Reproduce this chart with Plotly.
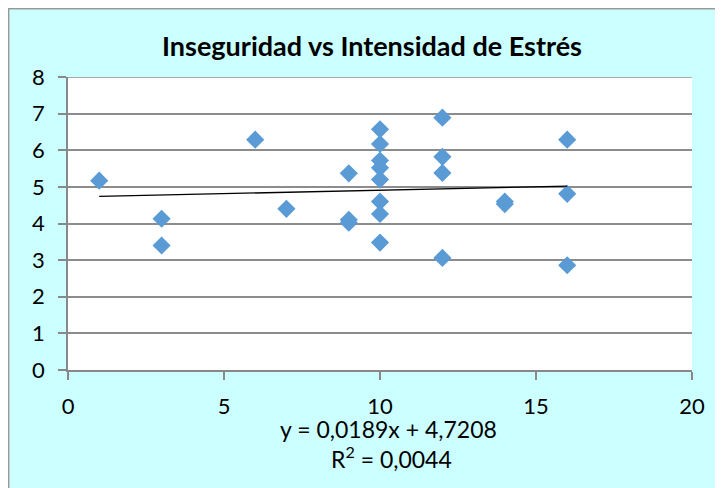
import plotly.graph_objects as go

# Data
x_vals = [1, 3, 3, 6, 7, 9, 9, 9, 10, 10, 10, 10, 10, 10, 10, 10, 12, 12, 12, 12, 14, 14, 16, 16, 16]
y_vals = [5.17, 4.13, 3.40, 6.29, 4.40, 5.37, 4.10, 4.02, 6.57, 6.17, 5.72, 5.52, 5.20, 4.60, 4.26, 3.48,
          6.89, 5.82, 5.38, 3.06, 4.60, 4.53, 6.29, 4.81, 2.86]
slope = 0.0189
intercept = 4.7208
r2 = 0.0044
x_ticks = [0, 5, 10, 15, 20]
y_ticks = [0, 1, 2, 3, 4, 5, 6, 7, 8]

FONT = "Lato, Open Sans, sans-serif"

tx = [min(x_vals), max(x_vals)]
ty = [slope * v + intercept for v in tx]

fig = go.Figure()
fig.add_trace(go.Scatter(x=x_vals, y=y_vals, mode="markers",
                         marker=dict(symbol="diamond", size=14, color="#5B9BD5",
                                     line=dict(width=0)),
                         showlegend=False, hoverinfo="x+y"))
fig.add_trace(go.Scatter(x=tx, y=ty, mode="lines", line=dict(color="black", width=1.3),
                         showlegend=False, hoverinfo="skip"))

# page body has an 8px margin; figure coords = page coords - 8
OFF = 8
W, H = 723 - OFF, 488 - OFF
L, T = 68 - OFF, 77 - OFF
R = W - (692 - OFF)
B = H - (370 - OFF)
pw, ph = W - L - R, H - T - B

def px(xp):
    return (xp - OFF - L) / pw

def py(yp):
    return (H - B - (yp - OFF)) / ph

fig.update_layout(
    width=W, height=H,
    margin=dict(l=L, r=R, t=T, b=B),
    paper_bgcolor="#CCFFFF",
    plot_bgcolor="white",
    font=dict(family=FONT, size=22, color="black"),
    title=dict(text="<b>Inseguridad vs Intensidad de Estrés</b>", xref="container",
               x=(372 - OFF) / W, xanchor="center",
               y=1 - (47 - OFF) / H, yanchor="middle", font=dict(size=27, family=FONT)),
    xaxis=dict(range=[0, 20], tickvals=x_ticks, showgrid=False, zeroline=False,
               showline=True, linecolor="#888888", linewidth=1.5,
               ticks="outside", ticklen=8, tickcolor="#888888", tickwidth=1.5,
               tickfont=dict(size=22), ticklabelstandoff=8, fixedrange=True, automargin=False),
    yaxis=dict(range=[0, 8], tickvals=y_ticks, showgrid=True, gridcolor="#8c8c8c", gridwidth=1.5,
               zeroline=False, showline=True, linecolor="#888888", linewidth=1.5,
               ticks="outside", ticklen=8, tickcolor="#888888", tickwidth=1.5,
               tickfont=dict(size=22), ticklabelstandoff=9, fixedrange=True, automargin=False),
    shapes=[
        dict(type="rect", xref="paper", yref="paper", x0=px(8.7), x1=px(740), y0=py(500), y1=py(8.7),
             fillcolor="rgba(0,0,0,0)", line=dict(color="#999999", width=1.5), layer="above"),
        dict(type="line", xref="x", yref="y", x0=0, x1=20, y0=8, y1=8,
             line=dict(color="#8c8c8c", width=1.5)),
    ],
    annotations=[
        dict(text=f"y = {str(slope).replace('.', ',')}x + {str(intercept).replace('.', ',')}",
             xref="paper", yref="paper", x=px(388), y=py(429), showarrow=False,
             xanchor="center", yanchor="middle", font=dict(size=23)),
        dict(text=f"R<sup>2</sup> = {str(r2).replace('.', ',')}",
             xref="paper", yref="paper", x=px(391), y=py(457), showarrow=False,
             xanchor="center", yanchor="middle", font=dict(size=23)),
    ],
)

fig.write_html("out.html")
